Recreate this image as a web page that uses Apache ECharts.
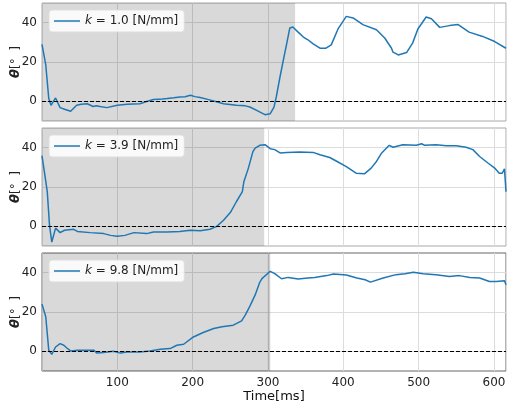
<!DOCTYPE html>
<html>
<head>
<meta charset="utf-8">
<script src="https://cdn.jsdelivr.net/npm/echarts@6/dist/echarts.min.js"></script>
<style>
html, body { margin: 0; padding: 0; background: #fff; }
#main { width: 507px; height: 401px; }
</style>
</head>
<body>
<div id="main"></div>
<script>
var myChart = echarts.init(document.getElementById('main'));

// stiffness of each run
var stiffness = ['1.0', '3.9', '9.8'];
// end of the grey (contact) span, ms
var shadeEnd = [336, 295, 299];
var shadeEdge = [null, null, 303];

var t1 = [0, 5, 9, 12, 16, 18, 24, 30, 38, 46, 52, 60, 68, 72, 77, 86, 100, 113, 130, 140, 148, 160, 166, 175, 183, 190, 197, 203, 210, 220, 228, 241, 258, 270, 276, 285, 296, 303, 308, 311, 316, 320, 325, 329, 333, 340, 347, 353, 360, 369, 377, 384, 393, 404, 413, 426, 444, 455, 464, 466, 473, 484, 492, 499, 510, 517, 528, 541, 552, 567, 585, 601, 616];
var v1 = [29, 18.5, 1.4, -2, 0.5, 1.7, -3.2, -4, -5, -2, -1.5, -1.2, -2.6, -2.2, -2.6, -3.2, -2, -1.5, -1.2, 0, 0.9, 1.2, 1.4, 1.8, 2.2, 2.3, 3.1, 2.4, 1.9, 1, 0.2, -1.2, -2, -2.3, -2.9, -4.6, -6.8, -6.3, -2.9, 2.2, 12.5, 20.2, 29.6, 37.3, 37.8, 35.2, 32.7, 31.3, 29.2, 27, 27, 28.7, 36.8, 43.2, 42.4, 39, 36.4, 32.2, 27, 25, 23.6, 24.8, 29.6, 36.8, 42.9, 42, 37.6, 38.5, 39.1, 35.2, 33, 30.4, 27];

var t2 = [0, 7, 10, 13, 18, 24, 30, 42, 47, 64, 82, 91, 100, 110, 122, 139, 148, 166, 183, 197, 210, 223, 232, 241, 250, 258, 266, 268, 274, 280, 283, 289, 296, 303, 309, 316, 325, 342, 360, 369, 382, 393, 404, 417, 428, 437, 444, 451, 461, 466, 479, 497, 504, 508, 523, 537, 550, 563, 572, 581, 592, 601, 607, 611, 614, 616];
var v2 = [36, 17.6, 0.5, -8, -0.9, -3.2, -2, -1.5, -2.6, -3.2, -3.7, -4.6, -5.1, -4.6, -3.2, -3.7, -2.9, -2.9, -2.6, -2, -2.2, -1.5, 0, 3.1, 7, 12.5, 17.6, 22.7, 29.6, 38, 39.8, 41.2, 41.5, 39.5, 39, 37.3, 37.6, 37.8, 37.6, 36.4, 35, 32.7, 30.4, 27, 26.7, 29.6, 33, 37.3, 41.2, 40.2, 41.5, 41.2, 42, 41.2, 41.5, 41, 41, 40.2, 39, 35.5, 32.2, 29.6, 27, 27, 29.2, 17.6];

var t3 = [0, 5, 9, 13, 18, 24, 29, 33, 38, 47, 69, 73, 82, 95, 104, 113, 130, 143, 157, 170, 179, 188, 201, 214, 228, 239, 254, 265, 270, 276, 283, 289, 292, 303, 309, 318, 327, 340, 353, 362, 378, 387, 404, 418, 429, 436, 453, 470, 482, 493, 506, 523, 541, 554, 568, 581, 594, 603, 614, 616];
var v3 = [24, 17.6, 0.5, -1.5, 2.2, 3.9, 3.1, 1.7, 0.2, 0.5, 0.5, -0.9, -0.6, 0, -0.9, -0.3, -0.3, 0.2, 1, 1.4, 3.1, 3.6, 7.3, 9.6, 11.6, 12.5, 13.3, 15.5, 18.5, 23, 28.7, 35, 37, 40.7, 39.5, 36.9, 37.6, 36.8, 37.3, 37.6, 38.5, 39.3, 38.8, 37.3, 36.4, 35.2, 37.3, 39, 39.5, 40.2, 39.5, 39, 38.1, 38.5, 37.6, 37.3, 35.5, 35.5, 35.9, 33.8];

var yTicks = [0, 20, 40];
var times = [t1, t2, t3];
var values = [v1, v2, v3];

var font = 'DejaVu Sans';
var gridTop = [3, 128, 253];
var frameColor = ['#a8a8a8', '#a8a8a8', '#666666'];

function pairs(t, v) {
    var out = [];
    for (var k = 0; k < t.length; k++) out.push([t[k], v[k]]);
    return out;
}

var grids = [], xAxes = [], yAxes = [], series = [], legends = [];
for (var i = 0; i < 3; i++) {
    var name = 'k = ' + stiffness[i] + ' [N/mm]';
    grids.push({
        left: 42, right: 1, top: gridTop[i], height: 118,
        outerBoundsMode: 'none', containLabel: false,
        show: true, borderColor: frameColor[i], borderWidth: 1, backgroundColor: '#fff'
    });
    xAxes.push({
        type: 'value', gridIndex: i, min: 0, max: 616, interval: 100,
        axisLine: { show: false }, axisTick: { show: false },
        axisLabel: {
            show: i === 2, showMinLabel: false, showMaxLabel: false,
            fontFamily: font, fontSize: 12, color: '#222', margin: 6
        },
        splitLine: { show: true, lineStyle: { color: '#dcdcdc', width: 1 } },
        name: i === 2 ? 'Time[ms]' : '',
        nameLocation: 'middle', nameGap: 19, nameMoveOverlap: false,
        nameTextStyle: { fontFamily: font, fontSize: 13, color: '#111' }
    });
    yAxes.push({
        type: 'value', gridIndex: i, min: -10, max: 50,
        axisLine: { show: false },
        axisTick: { show: false, customValues: yTicks },
        axisLabel: { customValues: yTicks, fontFamily: font, fontSize: 12, color: '#222', margin: 5 },
        splitLine: { show: true, lineStyle: { color: '#dcdcdc', width: 1 } },
        name: '{t|θ}[°  ]', nameLocation: 'middle', nameGap: 20, nameRotate: 90, nameMoveOverlap: false,
        nameTextStyle: {
            fontFamily: font, fontSize: 12, color: '#222',
            rich: { t: { fontFamily: font, fontSize: 13, fontWeight: 'bold', fontStyle: 'italic', color: '#222' } }
        }
    });
    var areas = [[{ xAxis: 0 }, { xAxis: shadeEnd[i] }]];
    if (shadeEdge[i]) areas.push([{ xAxis: shadeEnd[i], itemStyle: { color: 'rgba(0,0,0,0.2)' } }, { xAxis: shadeEdge[i] }]);
    series.push({
        name: name, type: 'line', xAxisIndex: i, yAxisIndex: i,
        data: pairs(times[i], values[i]),
        symbol: 'none', color: '#1f77b4',
        lineStyle: { color: '#1f77b4', width: 1.5 },
        markArea: {
            silent: true,
            itemStyle: { color: 'rgba(0,0,0,0.15)' },
            data: areas
        },
        markLine: {
            silent: true, symbol: ['none', 'none'],
            label: { show: false },
            lineStyle: { color: '#000', type: [4, 2], width: 1 },
            data: [{ yAxis: 0 }]
        }
    });
    legends.push({
        data: [name], left: 49, top: gridTop[i] + 7,
        orient: 'vertical',
        backgroundColor: 'rgba(255,255,255,0.85)', borderColor: '#dddddd', borderWidth: 1,
        borderRadius: 3, padding: [5, 6, 5, 5],
        icon: 'rect', itemWidth: 26, itemHeight: 1.5, itemGap: 8,
        formatter: function (n) { return n.replace('k', '{i|k}'); },
        textStyle: {
            fontFamily: font, fontSize: 12, color: '#222',
            rich: { i: { fontFamily: font, fontSize: 12, fontStyle: 'italic', color: '#222' } }
        }
    });
}

var option = {
    animation: false,
    backgroundColor: '#fff',
    grid: grids,
    xAxis: xAxes,
    yAxis: yAxes,
    legend: legends,
    series: series
};
myChart.setOption(option);
</script>
</body>
</html>
